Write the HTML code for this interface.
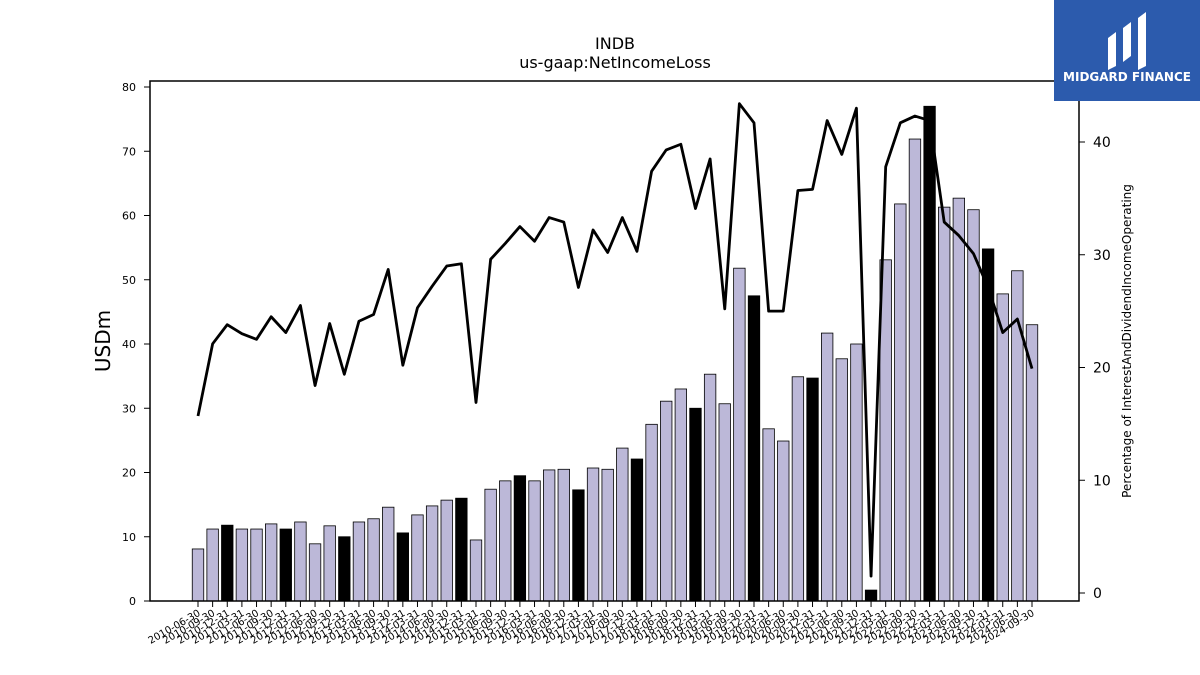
<!DOCTYPE html>
<html><head><meta charset="utf-8">
<style>
html,body{margin:0;padding:0;background:#fff;}
svg{display:block;font-family:"DejaVu Sans","Liberation Sans",sans-serif;}
</style></head>
<body>
<svg id="chart" width="1200" height="675" viewBox="0 0 1200 675">
  <rect x="0" y="0" width="1200" height="675" fill="#fff"/>
  <text x="615" y="49" font-size="16" text-anchor="middle">INDB</text>
  <text x="615" y="68" font-size="16" text-anchor="middle">us-gaap:NetIncomeLoss</text>
  <g id="bars"></g>
  <g id="line"></g>
  <rect x="150" y="81" width="929" height="520" fill="none" stroke="#000" stroke-width="1.5"/>
  <g id="axes"></g>
  <text transform="translate(110,341) rotate(-90)" font-size="20" text-anchor="middle">USDm</text>
  <text transform="translate(1131,341) rotate(-90)" font-size="12" text-anchor="middle">Percentage of InterestAndDividendIncomeOperating</text>
  <g>
    <rect x="1054" y="0" width="146" height="101" fill="#2c5bad"/>
    <path d="M1108 38 L1116 32 L1116 66 L1108 70 Z M1123 28 L1131 22 L1131 56 L1123 62 Z M1138 18 L1146 12 L1146 66 L1138 70 Z" fill="#fff"/>
    <text x="1127" y="81" font-size="12" font-weight="bold" fill="#fff" text-anchor="middle">MIDGARD FINANCE</text>
  </g>
</svg>
<script>
const dates = [];
for (let y = 2010; y <= 2024; y++) for (const q of ['03-31','06-30','09-30','12-31']) {
  const d = y + '-' + q;
  if (d >= '2010-06-30' && d <= '2024-09-30') dates.push(d);
}
const netIncome = [8.1,11.2,11.8,11.2,11.2,12.0,11.2,12.3,8.9,11.7,10.0,12.3,12.8,14.6,10.6,13.4,14.8,15.7,16.0,9.5,17.4,18.7,19.5,18.7,20.4,20.5,17.3,20.7,20.5,23.8,22.1,27.5,31.1,33.0,30.0,35.3,30.7,51.8,47.5,26.8,24.9,34.9,34.7,41.7,37.7,40.0,1.7,53.1,61.8,71.9,77.0,61.3,62.7,60.9,54.8,47.8,51.4,43.0];
const ratioPct = [15.7,22.1,23.8,23.0,22.5,24.5,23.1,25.5,18.4,23.9,19.4,24.1,24.7,28.7,20.2,25.3,27.2,29.0,29.2,16.9,29.6,31.0,32.5,31.2,33.3,32.9,27.1,32.2,30.2,33.3,30.3,37.4,39.3,39.8,34.1,38.5,25.2,43.4,41.7,25.0,25.0,35.7,35.8,41.9,38.9,43.0,1.5,37.8,41.7,42.3,41.9,32.9,31.7,30.1,27.1,23.1,24.3,19.9];
const leftTicks = [0,10,20,30,40,50,60,70,80];
const rightTicks = [0,10,20,30,40];

const NS = 'http://www.w3.org/2000/svg';
function mk(tag, attrs, parent, txt){const e=document.createElementNS(NS,tag);for(const k in attrs)e.setAttribute(k,attrs[k]);if(txt!==undefined)e.textContent=txt;parent.appendChild(e);return e;}
const x = i => 198 + i * (1032 - 198) / 57;
const yL = v => 601 - v * 514 / 80;
const yR = v => 593 - v * 451 / 40;
const bw = 11.5;

const bars = document.getElementById('bars');
netIncome.forEach((v,i)=>{
  const black = dates[i].endsWith('12-31');
  const r = mk('rect',{x:x(i)-bw/2,y:yL(v),width:bw,height:yL(0)-yL(v),fill:black?'#000':'#bcb8d8',stroke:'#000','stroke-width':0.8},bars);
  
  
});
const lg = document.getElementById('line');
const pl = mk('polyline',{points:ratioPct.map((v,i)=>x(i)+','+yR(v)).join(' '),fill:'none',stroke:'#000','stroke-width':2.8,'stroke-linejoin':'round'},lg);



const ax = document.getElementById('axes');
leftTicks.forEach(t=>{
  mk('line',{x1:144,x2:150,y1:yL(t),y2:yL(t),stroke:'#000','stroke-width':1},ax);
  const tx = mk('text',{x:136,y:yL(t)+4,'font-size':11,'text-anchor':'end'},ax,t);
  
  
});
rightTicks.forEach(t=>{
  mk('line',{x1:1079,x2:1085,y1:yR(t),y2:yR(t),stroke:'#000','stroke-width':1},ax);
  const tx = mk('text',{x:1093,y:yR(t)+5,'font-size':14},ax,t);
  
  
});
dates.forEach((d,i)=>{
  mk('line',{x1:x(i),x2:x(i),y1:601,y2:607,stroke:'#000','stroke-width':1},ax);
  const tx = mk('text',{transform:'translate('+(x(i)+3)+',615) rotate(-30)','font-size':10,'text-anchor':'end'},ax,d);
  
  
});
</script>
</body></html>
